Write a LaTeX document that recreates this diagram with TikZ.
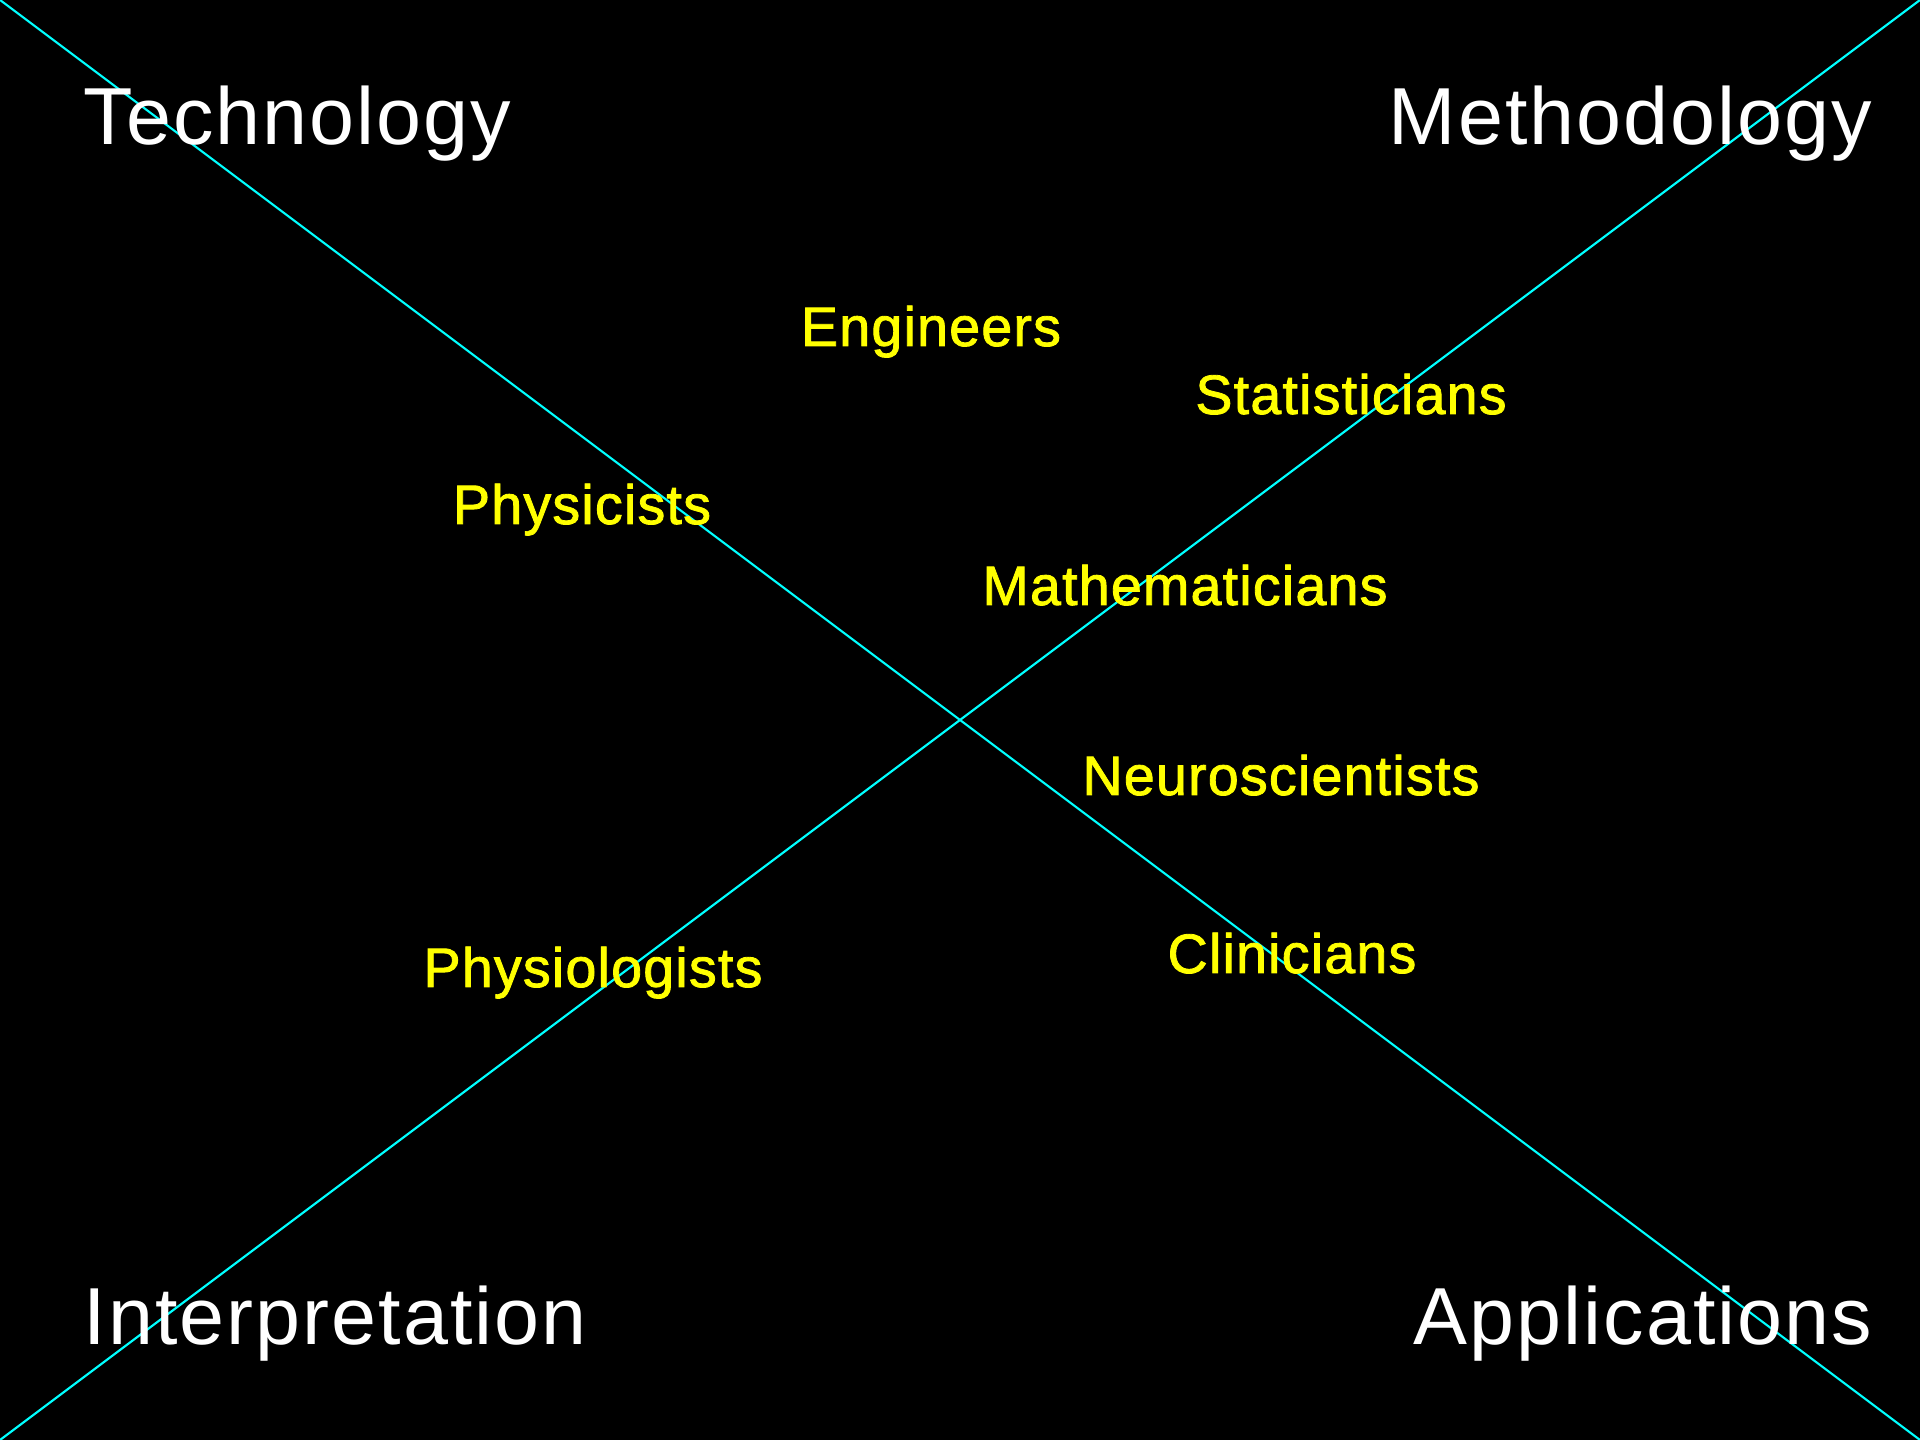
\documentclass[tikz,border=0pt]{standalone}
\usepackage{fontspec}
\setmainfont{Liberation Sans}
\newfontfamily\polefont[LetterSpace=2.5]{Liberation Sans}
\newfontfamily\fieldfont[LetterSpace=2.2, FakeBold=1.5]{Liberation Sans}

\definecolor{axiscyan}{RGB}{0,255,255}
\definecolor{fieldyellow}{RGB}{255,255,0}

\tikzset{
  corner/.style={text=white, font=\polefont\fontsize{23}{28}\selectfont, inner sep=0pt},
  field/.style={text=fieldyellow, font=\fieldfont\fontsize{15.8}{19}\selectfont, inner sep=0pt, anchor=base},
  axis/.style={axiscyan, line width=0.6pt}
}

\begin{document}
\begin{tikzpicture}[x=0.01cm, y=-0.01cm]
\fill[black] (0,0) rectangle (1920,1440);
\useasboundingbox (0,0) rectangle (1920,1440);

% corners of the frame
\coordinate (tl) at (0,0);
\coordinate (tr) at (1920,0);
\coordinate (bl) at (0,1440);
\coordinate (br) at (1920,1440);

\draw[axis] (tl) -- (br);
\draw[axis] (bl) -- (tr);

% the four poles
\node[corner, anchor=base west] (technology) at (83,145) {Technology};
\node[corner, anchor=base east] (methodology) at (1873,145) {Methodology};
\node[corner, anchor=base west] (interpretation) at (83,1345) {Interpretation};
\node[corner, anchor=base east] (applications) at (1873,1345) {Applications};

% the disciplines
\node[field] (engineers) at (931,346) {Engineers};
\node[field] (statisticians) at (1351,414) {Statisticians};
\node[field] (physicists) at (582,524) {Physicists};
\node[field] (mathematicians) at (1185,605) {Mathematicians};
\node[field] (neuroscientists) at (1281,795) {Neuroscientists};
\node[field] (clinicians) at (1292,973) {Clinicians};
\node[field] (physiologists) at (593,987) {Physiologists};
\end{tikzpicture}
\end{document}
